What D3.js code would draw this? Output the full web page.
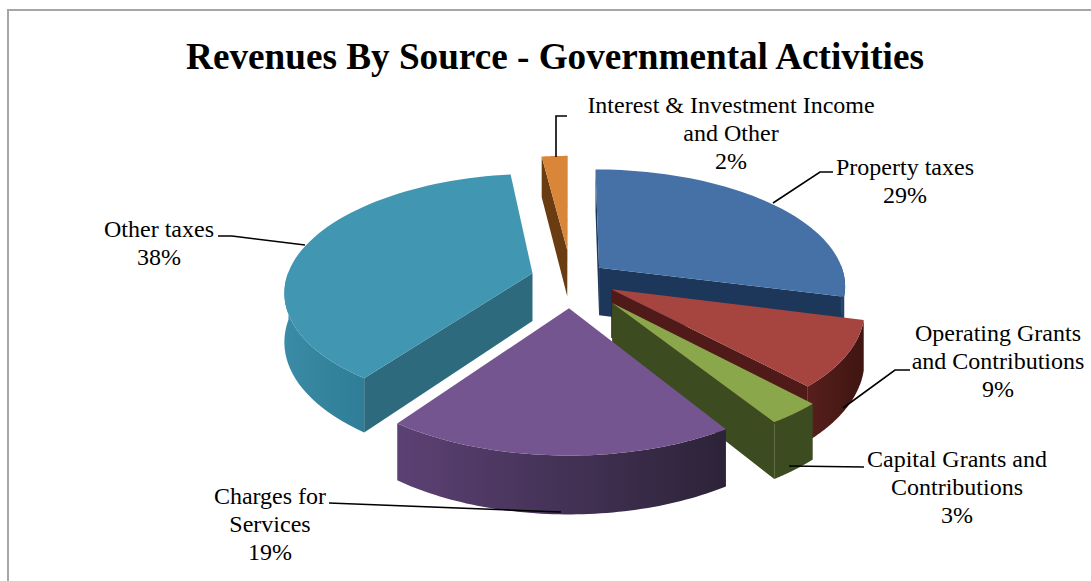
<!DOCTYPE html>
<html>
<head>
<meta charset="utf-8">
<script src="https://cdn.jsdelivr.net/npm/d3@7"></script>
<style>
body { margin:0; background:#fff; }
text { font-family:"Liberation Serif", serif; fill:#000; }
</style>
</head>
<body>
<div id="chart"></div>
<script>
// data
let sources = ['Property taxes', 'Operating Grants and Contributions', 'Capital Grants and Contributions', 'Charges for Services', 'Other taxes', 'Interest & Investment Income and Other'];
let shares = [29, 9, 3, 19, 38, 2];

// look of each slice, same order as sources
let explode = [36, 46, 65, 62, 40, 62];
let topColors = ['#4571a6', '#a6443f', '#8aa74c', '#75558f', '#4197b1', '#d98639'];
let wallColors = ['#1c3759', '#4f1a17', '#3d4b20', '#3a2c52', '#2d6a7d', '#6a3c12'];
let outerFrom = ['#2a5078', '#571f1b', '#3d4b20', '#5c4174', '#3a8ba6', '#6a3c12'];
let outerTo = ['#1c3759', '#3f1512', '#3d4b20', '#2c2338', '#2f7d96', '#6a3c12'];
let drawOrder = [5, 0, 4, 1, 2, 3];

// label text lines, centre x, first baseline, leader polyline
let labelLines = [
  ['Property taxes'],
  ['Operating Grants', 'and Contributions'],
  ['Capital Grants and', 'Contributions'],
  ['Charges for', 'Services'],
  ['Other taxes'],
  ['Interest & Investment Income', 'and Other']
];
let labelX = [905, 998, 957, 270, 159, 731];
let labelY = [175, 341, 467, 504, 237, 113];
let leaders = [
  [[773,203],[820,172],[833,172]],
  [[843,408],[895,370],[910,370]],
  [[789,466],[864,467]],
  [[329,503],[561,512]],
  [[218,236],[232,236],[305,245]],
  [[556,157],[556,116],[567,116]]
];

let svgAttr = {width:1091, height:581};
let cx = 571, cy = 278;
let R = 246, tilt = 0.47, persp = 0.0006, depth = 48;

let svg = d3.select('#chart').append('svg')
  .attr('width', svgAttr.width).attr('height', svgAttr.height)
  .style('display', 'block');
let defs = svg.append('defs');

// chart frame, right and bottom edges run off the picture
svg.append('rect').attr('x', 8).attr('y', 10).attr('width', 1200).attr('height', 700)
  .attr('fill', '#fff').attr('stroke', '#a6a6a6').attr('stroke-width', 2);

svg.append('text').attr('x', 555).attr('y', 69).attr('text-anchor', 'middle')
  .attr('font-size', 37.2).attr('font-weight', 'bold')
  .text('Revenues By Source - Governmental Activities');

let arcs = d3.pie().sort(null).startAngle(0).endAngle(2 * Math.PI)(shares);
let line = d3.line();

// world point on the pie plane -> screen, z goes down
function project(wx, wy, z) {
  let f = 1 / (1 - wy * persp);
  return [cx + wx * f, cy + (wy * tilt + z) * f];
}

arcs.forEach(function (a) { a.mid = (a.startAngle + a.endAngle) / 2; });

function slicePoint(a, i, r, ang, z) {
  let d = explode[i];
  let wx = d * Math.sin(a.mid) + r * Math.sin(ang);
  let wy = -d * Math.cos(a.mid) - r * Math.cos(ang);
  return project(wx, wy, z);
}

drawOrder.forEach(function (i) {
  let a = arcs[i];
  let g = svg.append('g').attr('class', 'slice');
  let steps = d3.range(0, 61).map(function (k) {
    return a.startAngle + (a.endAngle - a.startAngle) * k / 60;
  });
  let apexTop = slicePoint(a, i, 0, 0, 0);
  let apexBot = slicePoint(a, i, 0, 0, depth);

  // radial walls, only those facing the viewer
  [a.startAngle, a.endAngle].forEach(function (ang, w) {
    let wall = [apexTop, slicePoint(a, i, R, ang, 0), slicePoint(a, i, R, ang, depth), apexBot];
    let s = d3.polygonArea(wall);
    if ((w === 0 && s > 0) || (w === 1 && s < 0)) {
      g.append('path').attr('d', line(wall) + 'Z').attr('fill', wallColors[i]);
    }
  });

  // outer wall
  let front = steps.filter(function (ang) { return Math.cos(ang) < 0.05; });
  if (front.length > 1) {
    let xs = front.map(function (ang) { return slicePoint(a, i, R, ang, 0)[0]; });
    let grad = defs.append('linearGradient').attr('id', 'outer' + i)
      .attr('gradientUnits', 'userSpaceOnUse')
      .attr('x1', d3.min(xs)).attr('x2', d3.max(xs)).attr('y1', 0).attr('y2', 0);
    grad.append('stop').attr('offset', 0).attr('stop-color', outerFrom[i]);
    grad.append('stop').attr('offset', 1).attr('stop-color', outerTo[i]);
    let pts = front.map(function (ang) { return slicePoint(a, i, R, ang, 0); })
      .concat(front.slice().reverse().map(function (ang) { return slicePoint(a, i, R, ang, depth); }));
    g.append('path').attr('d', line(pts) + 'Z').attr('fill', 'url(#outer' + i + ')');
  }

  // top face
  let top = [apexTop].concat(steps.map(function (ang) { return slicePoint(a, i, R, ang, 0); }));
  g.append('path').attr('d', line(top) + 'Z').attr('fill', topColors[i]);
});

// leaders and labels
let lineH = 28;
leaders.forEach(function (pts) {
  svg.append('path').attr('d', line(pts)).attr('fill', 'none')
    .attr('stroke', '#000').attr('stroke-width', 1.6);
});
sources.forEach(function (s, i) {
  let t = svg.append('text').attr('font-size', 24).attr('text-anchor', 'middle');
  labelLines[i].forEach(function (l, k) {
    t.append('tspan').attr('x', labelX[i]).attr('y', labelY[i] + k * lineH).text(l);
  });
  t.append('tspan').attr('x', labelX[i]).attr('y', labelY[i] + labelLines[i].length * lineH)
    .text(shares[i] + '%');
});
</script>
</body>
</html>
